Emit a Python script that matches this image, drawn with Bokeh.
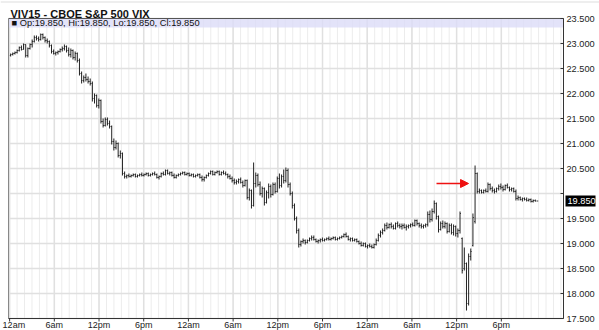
import numpy as np
from bokeh.plotting import figure
from bokeh.models import Range1d, Arrow, NormalHead, ColumnDataSource, Span
from bokeh.core.properties import value
from bokeh.embed import file_html
from bokeh.resources import INLINE

title_text = "VIV15 - CBOE S&P 500 VIX"
tick_hours = [0, 6, 12, 18, 24, 30, 36, 42, 48, 54, 60, 66]
tick_labels = ["12am", "6am", "12pm", "6pm", "12am", "6am", "12pm", "6pm", "12am", "6am", "12pm", "6pm"]
hour_grid = list(range(0, 75))
price_ticks = [17.5, 18.0, 18.5, 19.0, 19.5, 20.0, 20.5, 21.0, 21.5, 22.0, 22.5, 23.0, 23.5]
last_price = 19.85

opens = [
    22.76, 22.78, 22.80, 22.82, 22.86, 22.92, 22.88, 22.98, 22.76, 22.90, 22.98, 23.04,
    23.12, 23.10, 23.08, 23.18, 23.12, 23.06, 23.04, 22.96, 22.84, 22.80, 22.82, 22.84,
    22.88, 22.90, 22.94, 22.86, 22.78, 22.86, 22.72, 22.80, 22.66, 22.40, 22.26, 22.32,
    22.28, 22.24, 22.20, 21.90, 21.96, 21.76, 21.86, 21.44, 21.36, 21.48, 21.40, 21.34,
    21.04, 20.92, 21.00, 20.76, 20.80, 20.40, 20.34, 20.36, 20.34, 20.36, 20.38, 20.34,
    20.36, 20.38, 20.36, 20.38, 20.40, 20.36, 20.38, 20.40, 20.38, 20.32, 20.34, 20.40,
    20.38, 20.46, 20.40, 20.42, 20.36, 20.32, 20.36, 20.38, 20.40, 20.42, 20.38, 20.40,
    20.36, 20.38, 20.34, 20.36, 20.38, 20.32, 20.28, 20.32, 20.36, 20.40, 20.44, 20.38,
    20.42, 20.44, 20.38, 20.42, 20.40, 20.38, 20.34, 20.30, 20.26, 20.22, 20.24, 20.28,
    20.22, 20.16, 20.26, 19.92, 20.06, 19.76, 20.20, 20.36, 20.18, 20.00, 20.10, 19.82,
    20.02, 20.14, 19.98, 20.18, 20.04, 20.30, 20.16, 20.34, 20.26, 20.46, 20.18, 20.00,
    19.76, 19.50, 19.26, 18.98, 19.04, 19.06, 19.02, 19.06, 19.10, 19.12, 19.08, 19.04,
    19.06, 19.08, 19.06, 19.08, 19.10, 19.08, 19.10, 19.12, 19.08, 19.10, 19.12, 19.14,
    19.18, 19.14, 19.08, 19.10, 19.06, 19.08, 19.04, 19.00, 18.96, 19.00, 18.94, 18.96,
    18.94, 18.92, 18.98, 19.06, 19.16, 19.22, 19.26, 19.36, 19.32, 19.38, 19.34, 19.30,
    19.40, 19.36, 19.34, 19.36, 19.32, 19.34, 19.36, 19.38, 19.36, 19.46, 19.40, 19.36,
    19.34, 19.36, 19.38, 19.58, 19.48, 19.64, 19.80, 19.54, 19.28, 19.40, 19.34, 19.40,
    19.24, 19.36, 19.22, 19.34, 19.20, 19.26, 19.10, 18.50, 18.60, 17.80, 18.74, 18.96,
    19.44, 20.40, 20.04, 20.06, 20.02, 20.06, 20.04, 20.18, 20.10, 20.06, 20.04, 20.10,
    20.14, 20.12, 20.08, 20.16, 20.12, 20.08, 20.10, 20.04, 19.90, 19.92, 19.88, 19.90,
    19.88, 19.86, 19.88, 19.84, 19.86, 19.85,
]
highs = [
    22.80, 22.82, 22.84, 22.88, 22.94, 22.96, 23.00, 22.98, 22.92, 23.00, 23.08, 23.16,
    23.16, 23.14, 23.20, 23.20, 23.14, 23.10, 23.06, 22.98, 22.88, 22.84, 22.86, 22.90,
    22.94, 22.98, 22.96, 22.92, 22.90, 22.88, 22.84, 22.82, 22.70, 22.44, 22.36, 22.40,
    22.34, 22.30, 22.24, 22.00, 21.98, 21.90, 21.88, 21.50, 21.52, 21.52, 21.46, 21.36,
    21.10, 21.06, 21.02, 20.86, 20.82, 20.44, 20.38, 20.40, 20.38, 20.40, 20.40, 20.38,
    20.40, 20.42, 20.40, 20.42, 20.42, 20.40, 20.42, 20.44, 20.40, 20.36, 20.42, 20.44,
    20.48, 20.48, 20.44, 20.44, 20.40, 20.38, 20.40, 20.42, 20.44, 20.44, 20.42, 20.42,
    20.40, 20.40, 20.38, 20.40, 20.40, 20.36, 20.34, 20.38, 20.42, 20.46, 20.46, 20.44,
    20.46, 20.46, 20.44, 20.46, 20.44, 20.40, 20.38, 20.34, 20.30, 20.28, 20.30, 20.32,
    20.26, 20.28, 20.28, 20.10, 20.08, 20.62, 20.42, 20.40, 20.24, 20.14, 20.12, 20.06,
    20.20, 20.18, 20.22, 20.22, 20.34, 20.40, 20.38, 20.48, 20.52, 20.50, 20.22, 20.04,
    19.80, 19.54, 19.30, 19.06, 19.10, 19.08, 19.08, 19.12, 19.16, 19.16, 19.10, 19.08,
    19.10, 19.12, 19.10, 19.12, 19.14, 19.12, 19.14, 19.14, 19.12, 19.14, 19.16, 19.20,
    19.22, 19.16, 19.12, 19.12, 19.10, 19.10, 19.06, 19.04, 19.02, 19.02, 18.98, 19.00,
    18.98, 19.00, 19.10, 19.20, 19.26, 19.30, 19.40, 19.42, 19.40, 19.42, 19.38, 19.42,
    19.44, 19.40, 19.40, 19.40, 19.38, 19.38, 19.40, 19.42, 19.48, 19.48, 19.42, 19.40,
    19.38, 19.40, 19.64, 19.66, 19.70, 19.86, 19.82, 19.56, 19.44, 19.46, 19.44, 19.42,
    19.40, 19.40, 19.38, 19.36, 19.30, 19.64, 19.12, 18.92, 18.62, 18.80, 18.90, 19.60,
    20.56, 20.42, 20.10, 20.08, 20.08, 20.10, 20.22, 20.20, 20.14, 20.10, 20.12, 20.18,
    20.20, 20.16, 20.18, 20.20, 20.14, 20.12, 20.12, 20.08, 19.96, 19.94, 19.92, 19.92,
    19.92, 19.90, 19.90, 19.88, 19.88, 19.85,
]
lows = [
    22.74, 22.76, 22.78, 22.80, 22.84, 22.86, 22.88, 22.72, 22.72, 22.88, 22.92, 23.02,
    23.06, 23.04, 23.06, 23.08, 23.02, 23.00, 22.92, 22.80, 22.78, 22.76, 22.78, 22.82,
    22.84, 22.86, 22.82, 22.74, 22.72, 22.68, 22.66, 22.62, 22.36, 22.20, 22.22, 22.24,
    22.20, 22.16, 21.84, 21.80, 21.72, 21.70, 21.40, 21.32, 21.34, 21.36, 21.30, 20.98,
    20.86, 20.88, 20.72, 20.70, 20.36, 20.30, 20.30, 20.32, 20.32, 20.34, 20.32, 20.32,
    20.34, 20.34, 20.34, 20.36, 20.34, 20.34, 20.36, 20.36, 20.30, 20.28, 20.32, 20.36,
    20.36, 20.38, 20.36, 20.34, 20.30, 20.30, 20.34, 20.36, 20.38, 20.36, 20.36, 20.34,
    20.34, 20.32, 20.32, 20.34, 20.30, 20.24, 20.24, 20.30, 20.34, 20.38, 20.36, 20.36,
    20.40, 20.36, 20.36, 20.38, 20.36, 20.30, 20.28, 20.22, 20.18, 20.18, 20.20, 20.20,
    20.12, 20.14, 19.88, 19.86, 19.70, 19.74, 20.12, 20.14, 19.96, 19.92, 19.76, 19.80,
    19.90, 19.92, 19.96, 20.00, 20.02, 20.10, 20.12, 20.20, 20.22, 20.12, 19.96, 19.70,
    19.46, 19.20, 18.92, 18.94, 19.00, 18.98, 19.00, 19.04, 19.06, 19.06, 19.02, 19.00,
    19.02, 19.04, 19.04, 19.06, 19.06, 19.06, 19.08, 19.06, 19.06, 19.08, 19.10, 19.12,
    19.12, 19.06, 19.04, 19.04, 19.04, 19.02, 18.98, 18.94, 18.94, 18.92, 18.90, 18.92,
    18.90, 18.90, 18.96, 19.04, 19.12, 19.18, 19.24, 19.28, 19.30, 19.30, 19.28, 19.28,
    19.32, 19.30, 19.28, 19.30, 19.26, 19.30, 19.32, 19.34, 19.34, 19.36, 19.32, 19.30,
    19.30, 19.32, 19.34, 19.42, 19.44, 19.60, 19.48, 19.22, 19.26, 19.30, 19.30, 19.20,
    19.22, 19.18, 19.16, 19.14, 19.12, 19.20, 18.40, 18.46, 17.66, 17.76, 18.66, 18.94,
    19.40, 20.00, 20.00, 20.00, 20.00, 20.02, 20.02, 20.06, 20.02, 20.00, 20.02, 20.06,
    20.08, 20.04, 20.06, 20.10, 20.04, 20.04, 20.02, 19.86, 19.86, 19.86, 19.84, 19.86,
    19.84, 19.84, 19.82, 19.82, 19.84, 19.85,
]
closes = [
    22.78, 22.80, 22.82, 22.86, 22.92, 22.88, 22.98, 22.76, 22.90, 22.98, 23.04, 23.12,
    23.10, 23.08, 23.18, 23.12, 23.06, 23.04, 22.96, 22.84, 22.80, 22.82, 22.84, 22.88,
    22.90, 22.94, 22.86, 22.78, 22.86, 22.72, 22.80, 22.66, 22.40, 22.26, 22.32, 22.28,
    22.24, 22.20, 21.90, 21.96, 21.76, 21.86, 21.44, 21.36, 21.48, 21.40, 21.34, 21.04,
    20.92, 21.00, 20.76, 20.80, 20.40, 20.34, 20.36, 20.34, 20.36, 20.38, 20.34, 20.36,
    20.38, 20.36, 20.38, 20.40, 20.36, 20.38, 20.40, 20.38, 20.32, 20.34, 20.40, 20.38,
    20.46, 20.40, 20.42, 20.36, 20.32, 20.36, 20.38, 20.40, 20.42, 20.38, 20.40, 20.36,
    20.38, 20.34, 20.36, 20.38, 20.32, 20.28, 20.32, 20.36, 20.40, 20.44, 20.38, 20.42,
    20.44, 20.38, 20.42, 20.40, 20.38, 20.34, 20.30, 20.26, 20.22, 20.24, 20.28, 20.22,
    20.16, 20.26, 19.92, 20.06, 19.76, 20.20, 20.36, 20.18, 20.00, 20.10, 19.82, 20.02,
    20.14, 19.98, 20.18, 20.04, 20.30, 20.16, 20.34, 20.26, 20.46, 20.18, 20.00, 19.76,
    19.50, 19.26, 18.98, 19.04, 19.06, 19.02, 19.06, 19.10, 19.12, 19.08, 19.04, 19.06,
    19.08, 19.06, 19.08, 19.10, 19.08, 19.10, 19.12, 19.08, 19.10, 19.12, 19.14, 19.18,
    19.14, 19.08, 19.10, 19.06, 19.08, 19.04, 19.00, 18.96, 19.00, 18.94, 18.96, 18.94,
    18.92, 18.98, 19.06, 19.16, 19.22, 19.26, 19.36, 19.32, 19.38, 19.34, 19.30, 19.40,
    19.36, 19.34, 19.36, 19.32, 19.34, 19.36, 19.38, 19.36, 19.46, 19.40, 19.36, 19.34,
    19.36, 19.38, 19.58, 19.48, 19.64, 19.80, 19.54, 19.28, 19.40, 19.34, 19.40, 19.24,
    19.36, 19.22, 19.34, 19.20, 19.26, 19.60, 18.46, 18.60, 17.80, 18.74, 18.84, 19.52,
    20.40, 20.04, 20.06, 20.02, 20.06, 20.04, 20.18, 20.10, 20.06, 20.04, 20.10, 20.14,
    20.12, 20.08, 20.16, 20.12, 20.08, 20.10, 20.04, 19.90, 19.92, 19.88, 19.90, 19.88,
    19.86, 19.88, 19.84, 19.86, 19.85, 19.85,
]

# bar timing (hours from the first midnight)
first_bar_hour = 0.14
bar_step_hours = 0.2886
tick_half = 0.11

# ---- geometry (pixels) ----
W, H = 599, 330
PX_PER_HOUR = 7.45
PX_PER_PRICE = 50.0
frame_left_px, axis_px, top_px = 8, 563, 18
x_start = -0.15                       # hour at the left frame edge
x_min = x_start - frame_left_px / PX_PER_HOUR
x_max = x_start + (W - frame_left_px) / PX_PER_HOUR
x_axis = x_start + (axis_px - frame_left_px) / PX_PER_HOUR
y_lo, y_hi = price_ticks[0], price_ticks[-1]
y_max = y_hi + top_px / PX_PER_PRICE
y_min = y_hi - (H - top_px) / PX_PER_PRICE

n = len(closes)
t = first_bar_hour + np.arange(n) * bar_step_hours
src = ColumnDataSource(dict(t=t, tl=t - tick_half, tr=t + tick_half,
                            o=opens[:n], h=highs[:n], l=lows[:n], c=closes[:n]))

p = figure(width=W, height=H, output_backend="svg", toolbar_location=None,
           x_range=Range1d(x_min, x_max), y_range=Range1d(y_min, y_max),
           x_axis_location=None, y_axis_location=None,
           min_border_left=0, min_border_right=0, min_border_top=0, min_border_bottom=0,
           background_fill_color="white", border_fill_color="white")
p.outline_line_color = None
p.grid.visible = False

FONT = "Liberation Sans"
TXT = "#222222"

# page top hairline
p.add_layout(Span(location=y_max - 1.5 / PX_PER_PRICE, dimension="width",
                  line_color="#dddddd", line_width=1))

# grid
p.segment(x0=hour_grid, y0=y_lo, x1=hour_grid, y1=y_hi, line_color="#ececec", line_width=1)
p.segment(x0=tick_hours, y0=y_lo, x1=tick_hours, y1=y_hi, line_color="#e0e0e0", line_width=1.5)
p.segment(x0=x_start, y0=price_ticks, x1=x_axis, y1=price_ticks, line_color="#e0e0e0", line_width=1.5)

# legend band
p.quad(left=[x_start], right=[x_axis], bottom=[23.32], top=[y_hi],
       fill_color="#dcdcf8", fill_alpha=0.8, line_color=None)

# frame lines
p.segment(x0=[x_start], y0=[y_hi], x1=[x_axis], y1=[y_hi], line_color="#555555", line_width=1)
p.segment(x0=[x_start], y0=[y_lo], x1=[x_start], y1=[y_hi], line_color="#888888", line_width=1)
p.segment(x0=[x_start], y0=[y_lo], x1=[x_axis], y1=[y_lo], line_color="#333333", line_width=1)
p.segment(x0=[x_axis], y0=[y_lo], x1=[x_axis], y1=[y_hi], line_color="#333333", line_width=1)

# axis ticks
p.segment(x0=x_axis - 3 / PX_PER_HOUR, y0=price_ticks, x1=x_axis, y1=price_ticks,
          line_color="#333333", line_width=1)
p.segment(x0=tick_hours, y0=y_lo, x1=tick_hours, y1=y_lo - 3 / PX_PER_PRICE,
          line_color="#333333", line_width=1)

# OHLC bars
bar_color = "#222222"
p.segment(x0="t", y0="l", x1="t", y1="h", source=src, line_color=bar_color, line_width=1)
p.segment(x0="tl", y0="o", x1="t", y1="o", source=src, line_color=bar_color, line_width=1)
p.segment(x0="t", y0="c", x1="tr", y1="c", source=src, line_color=bar_color, line_width=1)

# red arrow annotation
arrow_from_hour, arrow_to_hour, arrow_level = 57.3, 61.6, 20.2
p.add_layout(Arrow(end=NormalHead(size=8, fill_color="#ee1111", line_color="#ee1111", line_width=1),
                   x_start=arrow_from_hour, y_start=arrow_level,
                   x_end=arrow_to_hour, y_end=arrow_level,
                   line_color="#ee1111", line_width=1.5))

# title
p.text(x=[x_start], y=[y_hi], text=[title_text], x_offset=2, y_offset=-5,
       text_baseline="alphabetic", text_align="left", text_font=value(FONT),
       text_font_size=value("11px"), text_font_style="bold", text_color="#111111")

# legend text
legend_text = "\u25a0 Op:%.3f, Hi:%.3f, Lo:%.3f, Cl:%.3f" % (opens[-1], highs[-1], lows[-1], closes[-1])
p.text(x=[x_start], y=[23.41], text=[legend_text], x_offset=3, text_baseline="middle",
       text_align="left", text_font=value(FONT), text_font_size=value("9.3px"),
       text_color="#111111")

# x labels (the first one kept inside the page)
xlab = ColumnDataSource(dict(
    x=tick_hours, y=[y_lo] * len(tick_hours), text=tick_labels,
    align=["left"] + ["center"] * (len(tick_hours) - 1),
    dx=[-7] + [0] * (len(tick_hours) - 1)))
p.text(x="x", y="y", text="text", source=xlab, x_offset="dx", y_offset=1,
       text_baseline="top", text_align="align", text_font=value(FONT),
       text_font_size=value("9px"), text_color=TXT)

# y labels (20.000 hidden behind the last-price marker)
y_lab_vals = [v for v in price_ticks if abs(v - 20.0) > 1e-9]
p.text(x=[x_axis] * len(y_lab_vals), y=y_lab_vals, text=["%.3f" % v for v in y_lab_vals],
       x_offset=3, text_baseline="middle", text_align="left", text_font=value(FONT),
       text_font_size=value("9.2px"), text_color=TXT)

# last price marker
p.rect(x=[x_axis + 17 / PX_PER_HOUR], y=[last_price], width=30, height=11,
       width_units="screen", height_units="screen", fill_color="black", line_color=None)
p.text(x=[x_axis], y=[last_price], text=["%.3f" % last_price], x_offset=4,
       text_baseline="middle", text_align="left", text_font=value(FONT),
       text_font_size=value("9.2px"), text_color="white")

open("out.html", "w").write(file_html(p, INLINE))
